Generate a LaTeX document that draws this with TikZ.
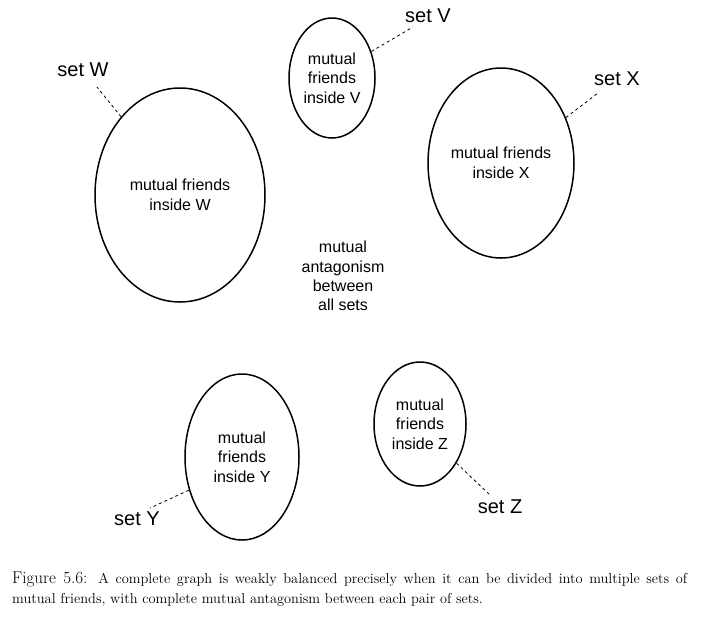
\documentclass[tikz,border=0pt]{standalone}
\usepackage{fontspec}
\newfontfamily\helv{Liberation Sans}
\usetikzlibrary{shapes.geometric}
\begin{document}
\begin{tikzpicture}[x=1pt,y=-1pt,
  setell/.style={draw, line width=1.5pt, ellipse, inner sep=0pt, align=center,
    font=\helv\fontsize{16}{19.5}\selectfont},
  setlab/.style={inner sep=0pt, font=\helv\fontsize{20}{24}\selectfont},
  dashlink/.style={line width=0.8pt, dash pattern=on 3pt off 3pt}]
\useasboundingbox (0,0) rectangle (706,622);
\node[setell, minimum width=170pt, minimum height=214pt] (W) at (180,195) {mutual friends\\inside W};
\node[setell, minimum width=86pt, minimum height=120pt] (V) at (332,78) {mutual\\friends\\inside V};
\node[setell, minimum width=146pt, minimum height=190pt] (X) at (501,163) {mutual friends\\inside X};
\node[setell, minimum width=114pt, minimum height=166pt] (Y) at (242,457) {mutual\\friends\\inside Y};
\node[setell, minimum width=92pt, minimum height=124pt] (Z) at (420,424) {mutual\\friends\\inside Z};
\node[align=center, inner sep=0pt, font=\helv\fontsize{16}{19.3}\selectfont] (C) at (343,276) {mutual\\antagonism\\between\\all sets};
\node[setlab] (lW) at (83,70) {set W};
\node[setlab] (lV) at (428,16) {set V};
\node[setlab] (lX) at (617,79) {set X};
\node[setlab] (lY) at (137,519) {set Y};
\node[setlab] (lZ) at (500,507) {set Z};
\coordinate (eW) at (97,87);
\coordinate (eV) at (413,27);
\coordinate (eX) at (598,93);
\coordinate (eY) at (150,508);
\coordinate (eZ) at (490,495);
\draw[dashlink] (W.127) -- (eW);
\draw[dashlink] (V.34) -- (eV);
\draw[dashlink] (X.35) -- (eX);
\draw[dashlink] (Y.212) -- (eY);
\draw[dashlink] (Z.313) -- (eZ);
\node[anchor=base west, inner sep=0pt, text width=675pt, align=justify,
  font=\fontsize{17}{20}\selectfont] (cap) at (12,583)
  {Figure 5.6: {\fontsize{14.4}{20}\selectfont A complete graph is weakly balanced precisely when it can be divided into multiple sets of\linebreak
  mutual friends, with complete mutual antagonism between each pair of sets.}};
\end{tikzpicture}
\end{document}
